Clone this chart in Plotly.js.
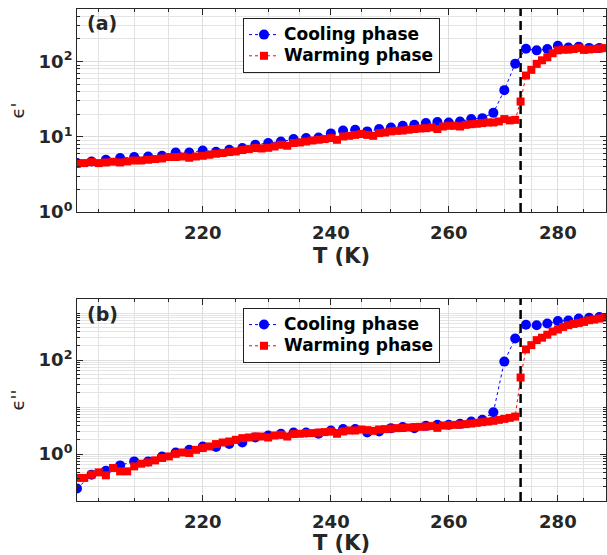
<!DOCTYPE html>
<html>
<head>
<meta charset="utf-8">
<script src="https://cdn.plot.ly/plotly-3.0.1.min.js"></script>
<style>
html, body { margin: 0; padding: 0; background: #ffffff; }
#chart { width: 607px; height: 555px; }
</style>
</head>
<body>
<div id="chart"></div>
<script>
// ---------------- data ----------------
const coolT = [202,204,206,208,210,212,214,216,218,220,222,224,226,228,230,232,234,236,238,240,242,244,
               246,248,250,252,254,256,258,260,262,264,266,268,270,272,274,276,278,280,282,284,286,288];
const coolEps1 = [4.47,4.70,4.95,5.21,5.38,5.47,5.59,6.19,6.19,6.58,6.32,6.72,7.08,7.83,8.25,8.66,9.32,9.61,9.79,11.1,12.1,12.4,
                  11.8,12.7,13.3,14.0,14.4,15.2,15.7,15.5,16.0,17.2,17.7,20.8,41.7,93.8,148,141,147,162,154,158,152,152];
const coolEps2 = [0.184,0.364,0.442,0.573,0.697,0.697,0.889,1.08,1.23,1.45,1.41,1.63,1.76,2.25,2.48,2.70,2.87,2.87,2.70,3.17,3.39,3.39,
                  2.87,3.02,3.56,3.74,3.56,3.98,4.18,4.18,4.39,4.91,5.34,7.78,92.9,289,566,553,600,681,695,766,797,828];

const warmT = [202,203,204,205,206,207,208,209,210,211,212,213,214,215,216,217,218,219,220,221,222,223,224,225,
               226,227,228,229,230,231,232,233,234,235,236,237,238,239,240,241,242,243,244,245,246,247,248,249,
               250,251,252,253,254,255,256,257,258,259,260,261,262,263,264,265,266,267,268,269,270,271,272,273,
               274,275,276,277,278,279,280,281,282,283,284,285,286,287,288,289];
const warmEps1 = [4.38,4.47,4.61,4.47,4.56,4.66,4.56,4.70,4.84,4.84,4.95,5.06,5.15,5.38,5.38,5.47,5.26,5.47,5.59,5.77,5.95,6.08,6.26,6.38,
                  6.66,6.87,7.08,6.99,7.14,7.43,7.83,7.60,8.25,8.40,8.66,8.93,9.12,9.32,9.61,9.12,10.1,10.3,10.6,10.9,10.6,10.3,11.2,11.4,
                  11.8,12.0,12.1,12.4,12.7,12.9,13.0,13.3,12.7,13.7,14.0,14.0,13.7,14.4,14.7,14.9,15.2,15.5,15.5,16.0,17.2,16.5,16.8,29.4,
                  65.2,77.6,93.2,104,114,129,141,144,144,147,151,143,145,147,149,151];
const warmEps2 = [0.310,0.310,0.364,0.407,0.352,0.505,0.428,0.428,0.546,0.623,0.663,0.732,0.823,0.889,1.01,1.08,1.05,1.23,1.34,1.45,1.63,1.76,1.85,2.01,
                  2.18,2.25,2.36,2.36,2.25,2.48,2.57,2.36,2.66,2.70,2.79,2.79,2.87,2.93,3.02,2.70,3.02,3.17,3.17,3.33,3.23,3.12,3.33,3.39,
                  3.49,3.56,3.61,3.67,3.74,3.79,3.85,3.93,3.61,4.04,4.12,4.18,4.24,4.33,4.46,4.61,4.77,4.91,5.09,5.34,5.61,5.89,6.27,42.6,
                  169,208,266,300,347,406,448,508,553,589,618,649,705,730,766,804];

const transitionT = 273;              // dashed vertical line (K)
const seriesNames = ['Cooling phase', 'Warming phase'];
const panelLabels = ['(a)', '(b)'];
const xTitle = 'T (K)';
const yTitles = ["ϵ'", "ϵ''"];

// ---------------- ticks / ranges ----------------
const xRange = [202, 289.3];
const xTickVals = [220, 240, 260, 280];
const xTickText = ['220', '240', '260', '280'];
const xMinorVals = [205, 210, 215, 225, 230, 235, 245, 250, 255, 265, 270, 275, 285];
const y1Range = [1, 500];
const y1TickVals = [1, 10, 100];
const y1TickText = ['10<sup>0</sup>', '10<sup>1</sup>', '10<sup>2</sup>'];
const y2Range = [0.1, 2000];
const y2TickVals = [1, 100];
const y2TickText = ['10<sup>0</sup>', '10<sup>2</sup>'];

function logMinor(decades) {
  const out = [];
  decades.forEach(d => { for (let k = 1; k <= 9; k++) out.push(k * d); });
  return out;
}
const y1Minor = logMinor([1, 10, 100]);
const y2Minor = logMinor([0.1, 1, 10, 100, 1000]);

// ---------------- styling ----------------
const FONT = 'DejaVu Sans, Arial, sans-serif';
const AXC = '#262626';
const BLUE = '#0000ff';
const RED = '#ff0000';

function xAxis(anchor) {
  return {
    type: 'log', anchor: anchor, domain: [0, 1],
    range: [Math.log10(xRange[0]), Math.log10(xRange[1])],
    tickmode: 'array', tickvals: xTickVals, ticktext: xTickText,
    tickfont: { family: FONT, size: 18, weight: 'bold', color: AXC },
    ticklabelstandoff: 4,
    ticks: 'inside', ticklen: 6, tickwidth: 1, tickcolor: AXC,
    showline: true, linecolor: AXC, linewidth: 1, mirror: 'ticks',
    showgrid: true, gridcolor: '#dcdcdc', gridwidth: 1, zeroline: false,
    minor: { tickmode: 'array', tickvals: xMinorVals, ticks: 'inside', ticklen: 3, tickcolor: AXC,
             showgrid: true, gridcolor: '#e2e2e2', gridwidth: 1 },
    title: { text: xTitle, font: { family: FONT, size: 21, weight: 'bold', color: AXC }, standoff: 6 }
  };
}
function yAxis(anchor, domain, range, tv, tt, minor, title) {
  return {
    type: 'log', anchor: anchor, domain: domain,
    range: [Math.log10(range[0]), Math.log10(range[1])],
    tickmode: 'array', tickvals: tv, ticktext: tt,
    tickfont: { family: FONT, size: 18, weight: 'bold', color: AXC },
    ticks: 'inside', ticklen: 6, tickwidth: 1, tickcolor: AXC,
    showline: true, linecolor: AXC, linewidth: 1, mirror: 'ticks',
    showgrid: true, gridcolor: '#dcdcdc', gridwidth: 1, zeroline: false,
    minor: { tickmode: 'array', tickvals: minor, ticks: 'inside', ticklen: 3, tickcolor: AXC,
             showgrid: true, gridcolor: '#e4e4e4', gridwidth: 1 },
    title: { text: title, font: { family: FONT, size: 18, color: AXC }, standoff: 9 }
  };
}

function series(x, y, xa, ya, idx, lg, show) {
  const isCool = idx === 0;
  return {
    x: x, y: y, xaxis: xa, yaxis: ya, type: 'scatter', mode: 'lines+markers',
    name: '<span style="font-size:17px">' + seriesNames[idx] + '</span>', legend: lg, showlegend: show,
    line: { color: isCool ? BLUE : RED, dash: 'dot', width: 1 },
    marker: { symbol: isCool ? 'circle' : 'square', size: isCool ? 10 : 8, color: isCool ? BLUE : RED,
              line: { width: 0 } }
  };
}
function vline(xa, ya, range) {
  return {
    x: [transitionT, transitionT], y: range, xaxis: xa, yaxis: ya, type: 'scatter', mode: 'lines',
    showlegend: false, hoverinfo: 'skip',
    line: { color: '#000000', width: 2.5, dash: '9px,5px' }
  };
}

const data = [
  vline('x', 'y', y1Range),
  vline('x2', 'y2', y2Range),
  series(coolT, coolEps1, 'x', 'y', 0, 'legend', true),
  series(warmT, warmEps1, 'x', 'y', 1, 'legend', true),
  series(coolT, coolEps2, 'x2', 'y2', 0, 'legend2', true),
  series(warmT, warmEps2, 'x2', 'y2', 1, 'legend2', true)
];

const legendStyle = (y) => ({
  x: 0.3138, y: y, xanchor: 'left', yanchor: 'top', xref: 'paper', yref: 'paper',
  bgcolor: '#ffffff', bordercolor: '#222222', borderwidth: 1,
  font: { family: FONT, size: 14, weight: 'bold', color: '#000000' },
  tracegroupgap: 0, itemwidth: 30
});

const layout = {
  width: 607, height: 555,
  margin: { l: 77, r: 1, t: 9, b: 54 },
  paper_bgcolor: '#ffffff', plot_bgcolor: '#ffffff',
  font: { family: FONT, color: AXC },
  showlegend: true,
  xaxis: xAxis('y'),
  xaxis2: xAxis('y2'),
  yaxis: yAxis('x', [0.5874, 1], y1Range, y1TickVals, y1TickText, y1Minor, yTitles[0]),
  yaxis2: yAxis('x2', [0, 0.4106], y2Range, y2TickVals, y2TickText, y2Minor, yTitles[1]),
  legend: legendStyle(0.9817),
  legend2: legendStyle(0.3923),
  annotations: [
    { text: panelLabels[0], xref: 'paper', yref: 'paper', x: 0.0151, y: 0.9715, xanchor: 'left', yanchor: 'middle',
      showarrow: false, font: { family: FONT, size: 19, weight: 'bold', color: AXC } },
    { text: panelLabels[1], xref: 'paper', yref: 'paper', x: 0.0151, y: 0.3801, xanchor: 'left', yanchor: 'middle',
      showarrow: false, font: { family: FONT, size: 19, weight: 'bold', color: AXC } }
  ]
};

Plotly.newPlot('chart', data, layout, { displayModeBar: false, staticPlot: true });
</script>
</body>
</html>
